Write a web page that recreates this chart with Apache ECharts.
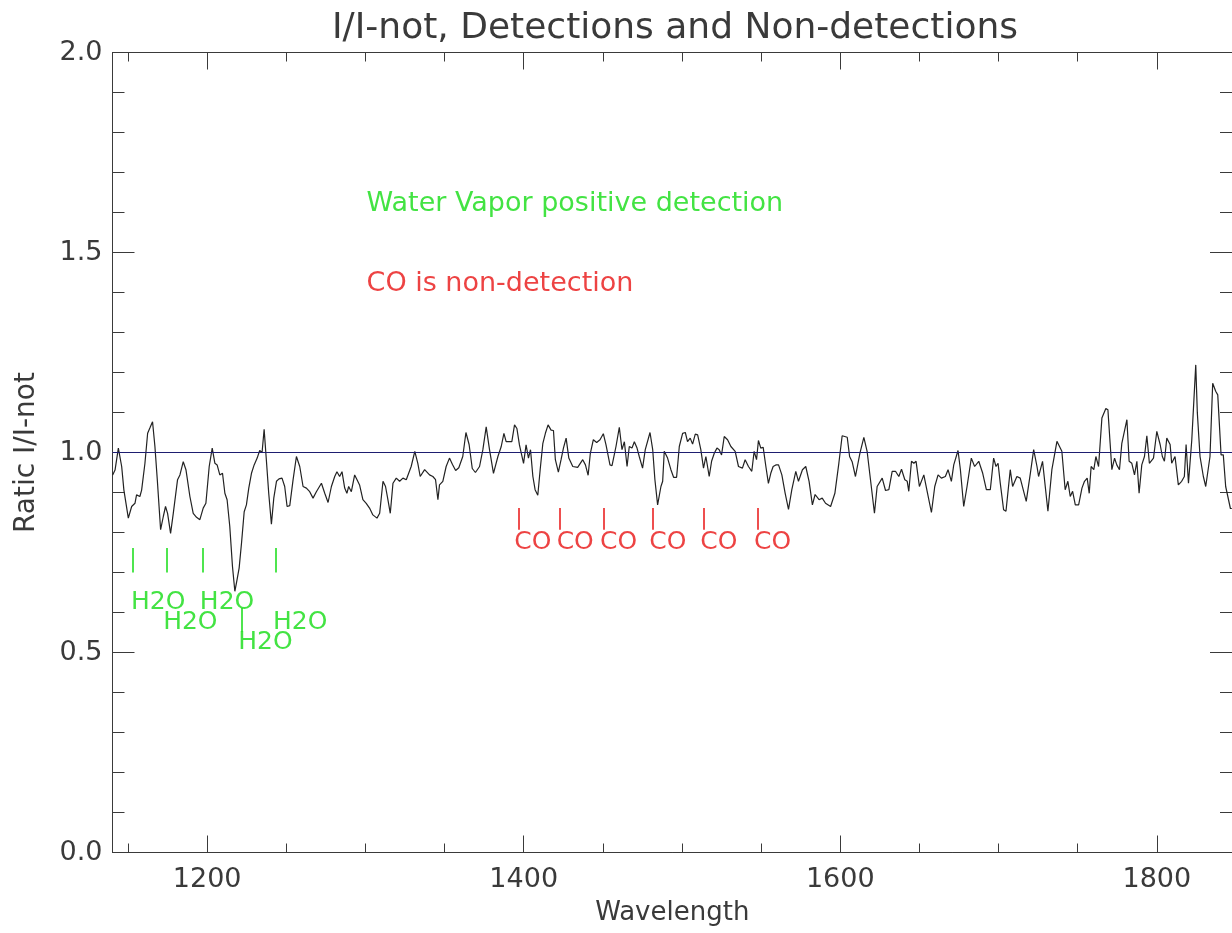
<!DOCTYPE html>
<html>
<head>
<meta charset="utf-8">
<script src="https://cdn.jsdelivr.net/npm/echarts@6/dist/echarts.min.js"></script>
<style>
html,body{margin:0;padding:0;background:#fff;}
#chart{width:1232px;height:933px;}
</style>
</head>
<body>
<div id="chart"></div>
<script>
// ---- data ----
const wavelength = [
1140.3,1141.8,1143.9,1146.0,1147.4,1150.2,1152.3,1154.4,1155.4,1157.5,1158.6,1160.7,1162.4,1163.8,1165.5,1167.0,1168.5,1170.6,1172.3,1173.7,
1175.0,1176.9,1178.6,1181.3,1182.8,1184.9,1186.6,1189.1,1191.2,1193.3,1195.4,1197.5,1199.2,1201.3,1203.2,1204.9,1206.3,1208.0,1209.7,1211.2,
1212.6,1214.3,1216.0,1217.5,1218.9,1220.2,1221.7,1223.4,1224.8,1226.3,1228.0,1229.7,1231.6,1233.2,1234.7,1236.0,1237.4,1238.9,1240.6,1242.1,
1243.8,1245.4,1247.3,1249.0,1250.5,1252.2,1254.3,1256.4,1258.5,1260.6,1262.7,1264.8,1266.9,1269.0,1272.2,1274.3,1276.4,1278.5,1280.6,1282.0,
1283.7,1285.2,1286.9,1288.3,1289.4,1291.1,1293.2,1294.7,1296.3,1298.4,1300.5,1302.6,1304.7,1307.3,1309.0,1311.1,1312.7,1314.2,1315.7,1317.4,
1319.5,1321.6,1323.7,1325.8,1328.9,1331.2,1333.1,1334.6,1337.4,1340.5,1342.6,1344.3,1345.8,1346.8,1348.9,1351.0,1353.1,1355.0,1357.0,1359.0,
1361.5,1363.5,1365.5,1367.5,1369.5,
1372.1,1374.2,1376.3,1378.4,1380.9,1383.7,1385.8,1387.5,1388.9,1391.0,1392.5,1394.2,1395.7,1397.3,1399.9,1401.5,1403.0,1404.3,1405.8,1407.2,
1408.9,1410.4,1412.1,1413.7,1415.4,1417.3,1418.8,1420.0,1421.9,1423.6,1425.1,1426.8,1428.5,1431.0,1434.1,1437.3,1439.0,1440.7,1442.1,1444.0,
1446.1,1448.2,1450.3,1452.0,1454.5,1455.8,1458.3,1460.4,1462.1,1463.6,1465.3,1466.7,1468.4,1469.9,1471.6,1473.0,1475.1,1476.8,1479.8,1481.5,
1482.9,1484.6,1486.7,1487.8,1488.8,1490.9,1493.0,1494.7,1496.6,1498.3,1500.4,1502.1,1503.5,1505.2,1506.7,1508.4,1509.9,1511.9,1513.6,1515.1,
1517.2,1518.7,1520.4,1522.1,1523.5,1525.0,1526.7,1528.8,1530.9,1533.6,1535.7,1538.2,1539.9,1542.0,1544.1,1545.6,1547.1,1548.3,1549.8,1551.3,
1553.0,1554.6,1556.1,1557.6,1559.3,1561.0,1563.1,1565.2,1567.3,1569.4,1571.9,1573.6,1576.1,1578.2,1580.3,1582.4,1584.1,1586.6,
1588.6,1590.7,1593.9,1596.6,1599.1,1601.2,1604.4,1605.9,1607.5,1609.6,1612.4,1614.9,1617.0,1619.1,1621.6,1623.3,1626.5,1628.6,1630.7,1632.8,
1634.9,1637.0,1638.7,1640.8,1642.3,1643.3,1645.0,1646.5,1647.9,1650.0,1652.8,1654.9,1657.6,1659.7,1661.8,1663.9,1666.4,1668.1,1670.2,1671.7,
1674.4,1675.9,1678.0,1680.1,1682.8,1684.9,1687.5,1690.0,1692.3,1694.8,1696.9,1698.4,1699.7,1701.1,1703.2,1704.7,1707.4,1708.9,1711.6,1713.7,
1717.5,1720.1,1722.2,1724.3,1725.3,1727.8,1731.2,1733.7,1736.9,1740.0,1742.1,1743.8,1745.3,1746.8,1748.5,1750.6,1752.7,1754.3,1756.0,1757.3,
1758.5,1760.2,1761.5,1763.2,1765.3,1767.8,1769.1,1770.5,1771.6,1773.3,1774.7,1776.4,1777.9,1781.1,1782.5,1784.2,1785.9,1787.4,1788.8,1790.5,
1792.2,1793.7,1795.3,1797.9,1800.0,1802.1,1803.5,1804.8,1806.3,1808.4,1809.4,1811.5,1813.6,1815.7,1817.4,1818.5,1820.0,1822.1,1824.6,1825.6,
1827.3,1829.4,1830.9,1833.6,1835.3,1837.2,1838.5,1840.6,1842.0,1843.5,1846.5,1847.4
];
const ratio = [
0.944,0.956,1.011,0.965,0.906,0.836,0.865,0.873,0.894,0.890,0.906,0.973,1.048,1.061,1.077,1.015,0.932,0.807,0.840,0.865,
0.848,0.798,0.848,0.932,0.944,0.977,0.957,0.890,0.848,0.838,0.832,0.861,0.873,0.965,1.011,0.973,0.969,0.944,0.948,0.898,
0.882,0.815,0.715,0.653,0.682,0.711,0.773,0.852,0.869,0.911,0.948,0.969,0.986,1.005,1.000,1.058,0.982,0.898,0.821,0.886,
0.928,0.934,0.936,0.915,0.865,0.867,0.932,0.990,0.965,0.915,0.911,0.902,0.886,0.902,0.923,0.898,0.875,0.915,0.940,0.952,
0.940,0.952,0.911,0.898,0.915,0.902,0.944,0.932,0.919,0.882,0.873,0.861,0.844,0.836,0.848,0.928,0.915,0.882,0.848,0.923,
0.936,0.928,0.936,0.932,0.965,1.003,0.973,0.940,0.957,0.944,0.940,0.932,0.882,0.919,0.928,0.965,0.986,0.970,0.955,0.962,
0.990,1.050,1.020,0.960,0.950,
0.965,1.007,1.064,1.007,0.948,0.990,1.015,1.048,1.027,1.027,1.027,1.069,1.060,1.019,0.973,1.019,0.986,1.007,0.940,0.907,
0.893,0.957,1.023,1.048,1.069,1.056,1.055,0.982,0.951,0.982,1.011,1.036,0.986,0.965,0.963,0.982,0.969,0.943,0.998,1.032,
1.025,1.032,1.047,1.019,0.969,0.967,1.015,1.063,1.007,1.027,0.965,1.015,1.011,1.027,1.011,0.990,0.961,1.007,1.050,1.007,
0.932,0.869,0.915,0.928,1.003,0.986,0.957,0.938,0.938,1.015,1.048,1.050,1.027,1.036,1.021,1.046,1.044,1.007,0.961,0.990,
0.940,0.978,0.998,1.011,1.007,0.994,1.040,1.032,1.015,1.003,0.965,0.961,0.982,0.965,0.953,1.003,0.982,1.030,1.011,1.013,
0.965,0.923,0.948,0.965,0.969,0.969,0.944,0.898,0.858,0.907,0.953,0.928,0.957,0.965,0.928,0.869,0.895,0.882,
0.886,0.873,0.865,0.898,0.973,1.042,1.038,0.990,0.977,0.940,0.998,1.038,1.002,0.932,0.848,0.915,0.936,0.905,0.907,0.953,
0.953,0.940,0.958,0.932,0.928,0.903,0.978,0.973,0.978,0.915,0.944,0.903,0.850,0.915,0.944,0.936,0.940,0.957,0.928,0.969,
1.005,0.957,0.865,0.915,0.986,0.965,0.978,0.948,0.907,0.907,0.986,0.965,0.973,0.923,0.857,0.853,0.957,0.915,0.940,0.936,
0.878,0.948,1.007,0.965,0.940,0.978,0.853,0.957,1.028,1.003,0.907,0.928,0.890,0.903,0.869,0.869,0.911,0.928,0.936,0.898,
0.965,0.957,0.990,0.965,1.086,1.110,1.107,1.023,0.957,0.986,0.969,0.957,1.023,1.082,0.978,0.973,0.944,0.978,0.898,0.969,
0.990,1.042,0.973,0.986,1.053,1.020,0.990,0.978,1.036,1.020,0.973,0.990,0.919,0.928,0.940,1.020,0.923,1.032,1.219,1.099,
0.990,0.940,0.915,0.990,1.173,1.153,1.144,0.994,0.994,0.915,0.860,0.860
];
const refLineX = [1140.2, 1847.5];
const refLineY = [1.0, 1.0];

const xMajorTicks = [1200, 1400, 1600, 1800];
const xMinorTicks = [1150, 1250, 1300, 1350, 1450, 1500, 1550, 1650, 1700, 1750];

const h2oTickX = [1152.7, 1174.4, 1197.1, 1221.7, 1243.2];
const h2oTickLo = [0.700, 0.700, 0.700, 0.5525, 0.700];
const h2oTickHi = [0.761, 0.761, 0.761, 0.611, 0.761];
const h2oLabelX = [1151.9, 1172.2, 1195.4, 1219.6, 1241.6];
const h2oLabelY = [0.624, 0.574, 0.624, 0.5255, 0.5755];

const coTickX = [1396.7, 1422.6, 1450.5, 1481.4, 1513.6, 1547.6];
const coTickLo = [0.807, 0.807, 0.807, 0.807, 0.807, 0.807];
const coTickHi = [0.861, 0.861, 0.861, 0.861, 0.861, 0.861];
const coLabelX = [1394.1, 1420.8, 1448.2, 1479.3, 1511.5, 1545.5];
const coLabelY = [0.7755, 0.7755, 0.7755, 0.7755, 0.7755, 0.7755];

const noteText = ['Water Vapor positive detection', 'CO is non-detection'];
const noteX = [1300.7, 1300.7];
const noteY = [1.622, 1.422];

// ---- styling ----
const FONT = 'DejaVu Sans';
const AX = '#3a3a3a';
const GREEN = '#14dc14';
const RED = '#e81414';
const XMIN = 1140.2, XMAX = 1847.5;

const chart = echarts.init(document.getElementById('chart'));

function xAxisDef(pos, ticks, len, showLabel, name) {
  return {
    type: 'value', min: XMIN, max: XMAX, position: pos,
    axisLine: { show: true, onZero: false, lineStyle: { color: AX, width: 1 } },
    axisTick: { show: true, inside: true, length: len, customValues: ticks, lineStyle: { color: AX, width: 1 } },
    axisLabel: showLabel ? { show: true, customValues: ticks, margin: 14, fontSize: 27, color: AX, fontFamily: FONT, formatter: v => String(v) } : { show: false },
    splitLine: { show: false },
    name: name || '', nameLocation: 'middle', nameGap: 48,
    nameTextStyle: { fontSize: 26, color: AX, fontFamily: FONT }
  };
}
function yAxisDef(pos, showLabel, name) {
  return {
    type: 'value', min: 0, max: 2, interval: 0.5, position: pos,
    axisLine: { show: true, onZero: false, lineStyle: { color: AX, width: 1 } },
    axisTick: { show: true, inside: true, length: 22, lineStyle: { color: AX, width: 1 } },
    minorTick: { show: true, splitNumber: 5, length: 12, lineStyle: { color: AX, width: 1 } },
    axisLabel: showLabel ? { show: true, margin: 10, fontSize: 27, color: AX, fontFamily: FONT, formatter: v => v.toFixed(1) } : { show: false },
    splitLine: { show: false }, minorSplitLine: { show: false },
    name: name || '', nameLocation: 'middle', nameGap: 72, nameRotate: 90,
    nameTextStyle: { fontSize: 28, color: AX, fontFamily: FONT }
  };
}

function labelSeries(name, xs, ys, texts, colors, size) {
  return {
    name: name, type: 'scatter', xAxisIndex: 0, yAxisIndex: 0,
    symbol: 'circle', symbolSize: 0,
    itemStyle: { color: 'rgba(0,0,0,0)' },
    data: xs.map((x, i) => ({
      value: [x, ys[i]], name: texts[i],
      label: { color: colors[i] }
    })),
    label: { show: true, position: 'right', distance: 0, formatter: p => p.name,
      fontSize: size, fontFamily: FONT },
    emphasis: { disabled: true },
    z: 5
  };
}

const option = {
  backgroundColor: '#ffffff',
  animation: false,
  title: {
    text: 'I/I-not, Detections and Non-detections',
    left: 670, top: 6, textAlign: 'center',
    textStyle: { fontSize: 36, fontWeight: 'normal', color: AX, fontFamily: FONT }
  },
  grid: { left: 112.5, top: 52.5, width: 1121, height: 800 },
  xAxis: [
    xAxisDef('bottom', xMajorTicks, 17, true, 'Wavelength'),
    xAxisDef('bottom', xMinorTicks, 9, false),
    xAxisDef('top', xMajorTicks, 17, false),
    xAxisDef('top', xMinorTicks, 9, false)
  ],
  yAxis: [
    yAxisDef('left', true, 'Ratic I/I-not'),
    yAxisDef('right', false)
  ],
  series: [
    {
      name: 'ratio', type: 'line', xAxisIndex: 0, yAxisIndex: 0,
      data: wavelength.map((w, i) => [w, ratio[i]]),
      showSymbol: false, symbol: 'none',
      lineStyle: { color: '#222222', width: 1.2 }, z: 3
    },
    {
      name: 'ref', type: 'line', xAxisIndex: 0, yAxisIndex: 0,
      data: refLineX.map((x, i) => [x, refLineY[i]]),
      symbol: 'none', lineStyle: { color: '#1e1e70', width: 1.2 }, z: 4
    },
    {
      name: 'h2oTicks', type: 'line', xAxisIndex: 0, yAxisIndex: 0, data: [],
      markLine: {
        silent: true, symbol: ['none', 'none'], label: { show: false },
        lineStyle: { color: GREEN, width: 1.5, type: 'solid', opacity: 1 },
        data: h2oTickX.map((x, i) => [{ coord: [x, h2oTickLo[i]] }, { coord: [x, h2oTickHi[i]] }])
      }
    },
    {
      name: 'coTicks', type: 'line', xAxisIndex: 0, yAxisIndex: 0, data: [],
      markLine: {
        silent: true, symbol: ['none', 'none'], label: { show: false },
        lineStyle: { color: RED, width: 1.5, type: 'solid', opacity: 1 },
        data: coTickX.map((x, i) => [{ coord: [x, coTickLo[i]] }, { coord: [x, coTickHi[i]] }])
      }
    },
    labelSeries('h2oLabels', h2oLabelX, h2oLabelY, h2oLabelX.map(() => 'H2O'), h2oLabelX.map(() => GREEN), 25),
    labelSeries('coLabels', coLabelX, coLabelY, coLabelX.map(() => 'CO'), coLabelX.map(() => RED), 25),
    labelSeries('notes', noteX, noteY, noteText, [GREEN, RED], 27)
  ]
};
chart.setOption(option);
</script>
</body>
</html>
